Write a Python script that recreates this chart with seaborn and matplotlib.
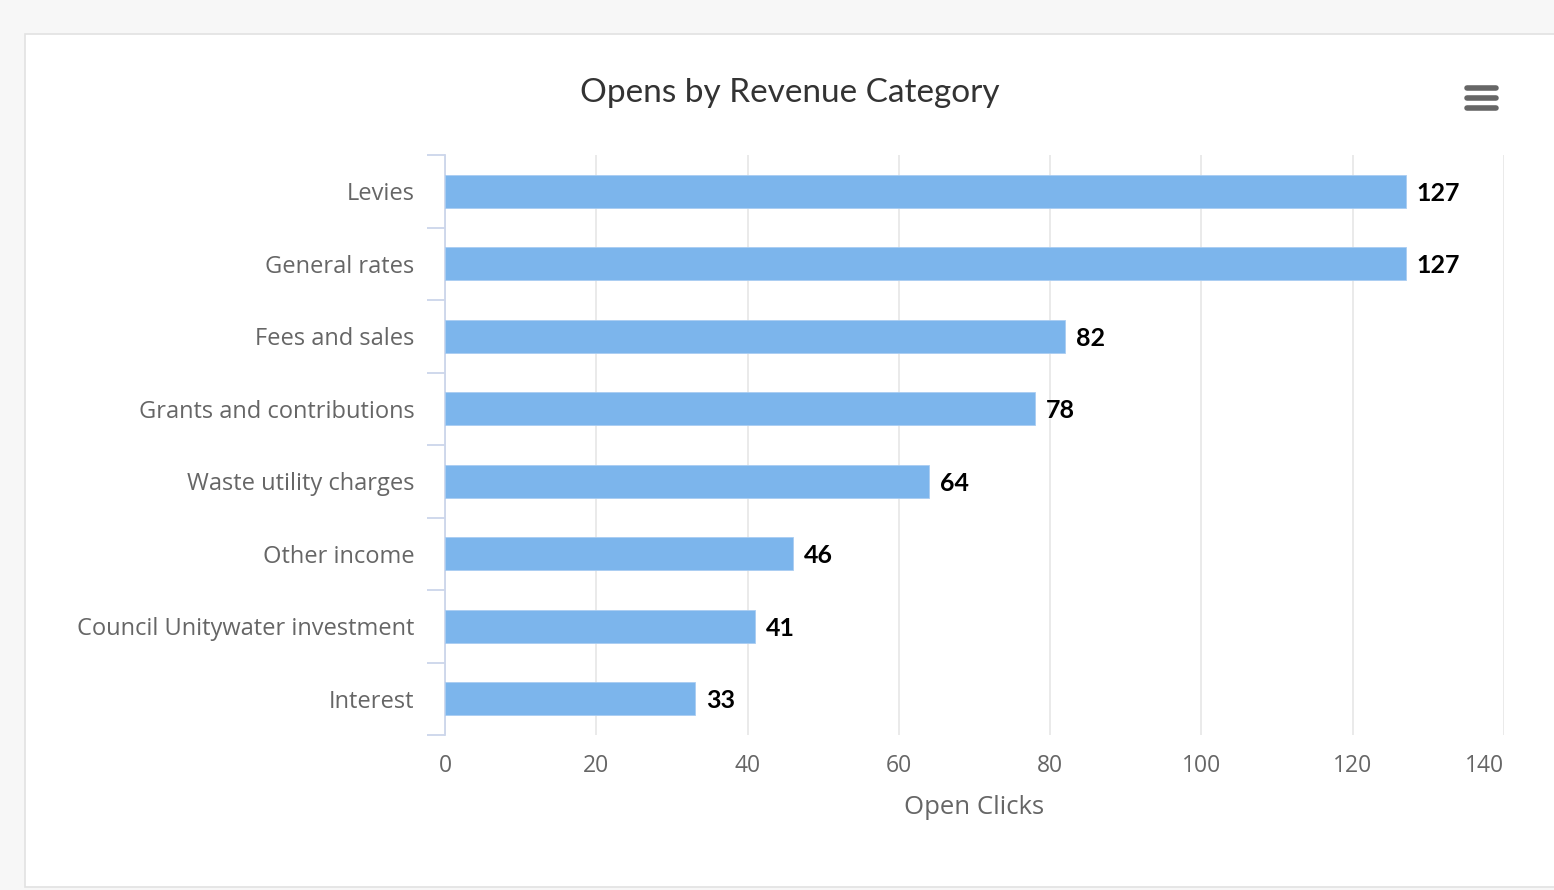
import matplotlib
matplotlib.use('Agg')
import matplotlib.pyplot as plt
import seaborn as sns
import pandas as pd
from matplotlib.patches import Rectangle
from matplotlib.lines import Line2D

categories = ['Levies', 'General rates', 'Fees and sales', 'Grants and contributions',
              'Waste utility charges', 'Other income', 'Council Unitywater investment', 'Interest']
open_clicks = [127, 127, 82, 78, 64, 46, 41, 33]
x_ticks = [0, 20, 40, 60, 80, 100, 120, 140]

df = pd.DataFrame({'Category': categories, 'Open Clicks': open_clicks})

sns.set_style('white')
plt.rcParams['font.family'] = ['Open Sans', 'DejaVu Sans']

W, H = 1554, 890
fig = plt.figure(figsize=(W / 100, H / 100), dpi=100)
fig.patch.set_facecolor('#f7f7f7')

# white card
card = Rectangle((25 / W, 1 - 887 / H), 1.0, (887 - 34) / H, transform=fig.transFigure,
                 facecolor='white', edgecolor='#e2e2e2', lw=1.2, zorder=0)
fig.add_artist(card)

ax = fig.add_axes([445 / W, 1 - 735 / H, (1504 - 445) / W, (735 - 155) / H])
ax.set_facecolor('none')

sns.barplot(data=df, x='Open Clicks', y='Category', color='#7cb5ec', width=0.45,
            saturation=1, edgecolor='#a9cdf2', linewidth=0.6, ax=ax, zorder=3)

ax.set_xlim(0, 140)
ax.set_ylim(7.5, -0.5)
ax.set_xticks(x_ticks)
ax.xaxis.grid(True, color='#e6e6e6', lw=1.2, zorder=0)
ax.yaxis.grid(False)
for s in ['top', 'right', 'bottom']:
    ax.spines[s].set_visible(False)
ax.spines['left'].set_color('#ccd6eb')
ax.spines['left'].set_linewidth(1.3)

ax.tick_params(axis='x', bottom=True, length=0, pad=14, labelsize=16.5, labelcolor='#666666')
ax.tick_params(axis='y', which='major', left=True, length=0, pad=22, labelsize=17, labelcolor='#666666')
ax.set_yticks([i + 0.5 for i in range(-1, len(categories))], minor=True)
ax.tick_params(axis='y', which='minor', left=True, length=13, width=1.3, color='#ccd6eb', direction='out')
# last label kept inside the plot area
ax.get_xticklabels()[-1].set_ha('right')

ax.set_ylabel('')
ax.set_xlabel('Open Clicks', fontsize=18.5, color='#666666', labelpad=12)

labels = ax.bar_label(ax.containers[0], padding=8, fontsize=18, fontweight='bold', color='black',
                      family=['Lato', 'DejaVu Sans'])
for t in labels:
    t.set_va('center_baseline')

fig.text(790 / W, 1 - 93 / H, 'Opens by Revenue Category', ha='center', va='center',
         fontsize=24, color='#333333', family=['Lato', 'DejaVu Sans'])

# menu icon
for yy in [88, 98, 108]:
    fig.add_artist(Line2D([1467 / W, 1496 / W], [1 - yy / H, 1 - yy / H], transform=fig.transFigure,
                          color='#666666', lw=4, solid_capstyle='round'))

fig.savefig('out.png', dpi=100, facecolor=fig.get_facecolor())
